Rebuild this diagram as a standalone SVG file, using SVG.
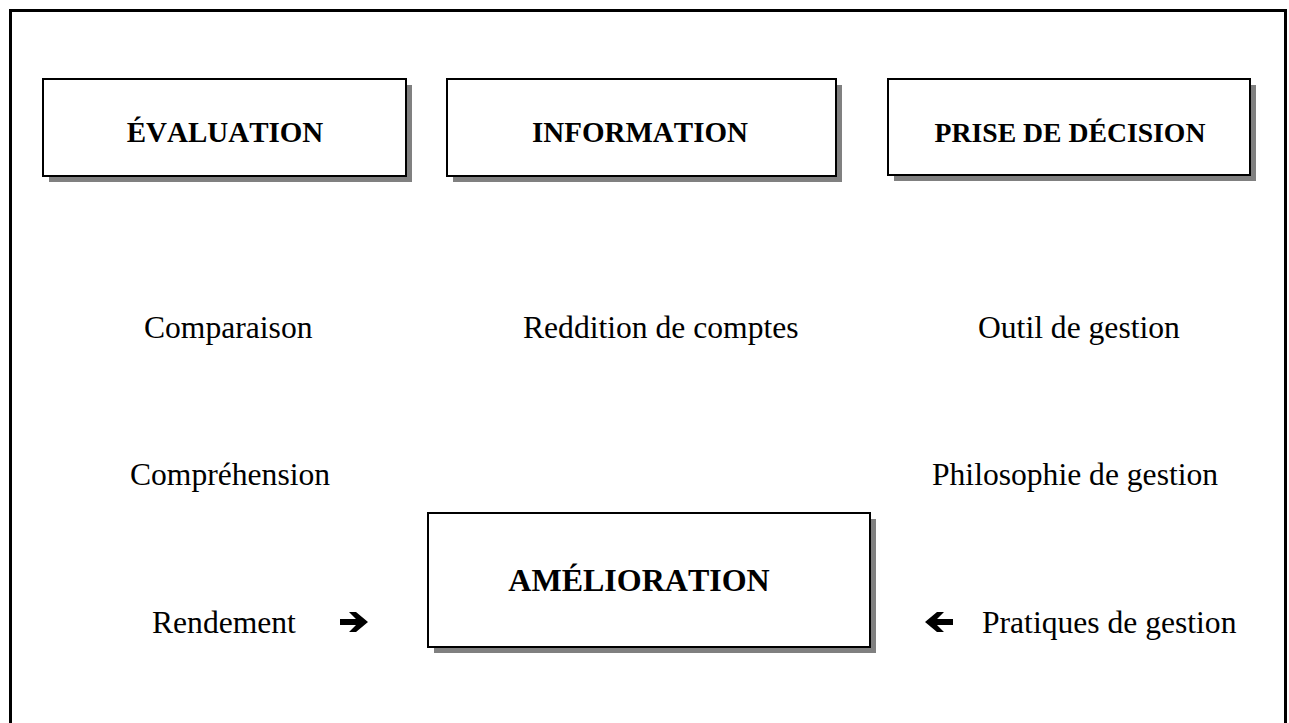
<svg xmlns="http://www.w3.org/2000/svg" width="1289" height="723" viewBox="0 0 1289 723">
<style>
.frame{fill:none;stroke:#000;stroke-width:3}
.shadow{fill:#808080}
.box{fill:#fff;stroke:#000;stroke-width:2}
.h{font-family:"Liberation Serif","Times New Roman",serif;font-weight:bold;fill:#000;font-kerning:none}
.t{font-family:"Liberation Serif","Times New Roman",serif;font-size:31.6px;fill:#000;font-kerning:none}
.arr{fill:#000}
</style>
<rect width="1289" height="723" fill="#fff"/>
<path class="frame" d="M10.5,730 V10.5 H1285.5 V730"/>

<g id="evaluation">
<rect class="shadow" x="49" y="85" width="363" height="97"/>
<rect class="box" x="43" y="79" width="363" height="97"/>
<text class="h" x="225" y="142" font-size="29" text-anchor="middle">ÉVALUATION</text>
</g>
<g id="information">
<rect class="shadow" x="453" y="85" width="389" height="97"/>
<rect class="box" x="447" y="79" width="389" height="97"/>
<text class="h" x="640" y="142" font-size="29" text-anchor="middle">INFORMATION</text>
</g>
<g id="prise-de-decision">
<rect class="shadow" x="894" y="85" width="362" height="96"/>
<rect class="box" x="888" y="79" width="362" height="96"/>
<text class="h" x="1070" y="142" font-size="27.7" text-anchor="middle">PRISE DE DÉCISION</text>
</g>
<g id="amelioration">
<rect class="shadow" x="434" y="519" width="442" height="134"/>
<rect class="box" x="428" y="513" width="442" height="134"/>
<text class="h" x="639" y="591" font-size="32" text-anchor="middle">AMÉLIORATION</text>
</g>

<g id="labels">
<text class="t" x="144" y="338">Comparaison</text>
<text class="t" x="523" y="338">Reddition de comptes</text>
<text class="t" x="978" y="338">Outil de gestion</text>
<text class="t" x="130" y="485">Compréhension</text>
<text class="t" x="932" y="485">Philosophie de gestion</text>
<text class="t" x="152" y="633">Rendement</text>
<text class="t" x="982" y="633">Pratiques de gestion</text>
</g>

<g id="connectors">
<path class="arr" d="M340,619 H356 L349,612 H356 L368,622 L356,632 H349 L356,625 H340 Z"/>
<path class="arr" d="M953,619 H937 L944,612 H937 L925,622 L937,632 H944 L937,625 H953 Z"/>
</g>
</svg>
